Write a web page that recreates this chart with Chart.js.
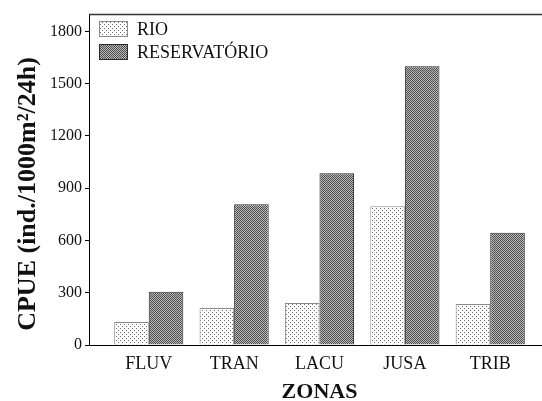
<!DOCTYPE html>
<html>
<head>
<meta charset="utf-8">
<script src="https://cdn.jsdelivr.net/npm/chart.js@4/dist/chart.umd.min.js"></script>
<style>
  html, body { margin: 0; padding: 0; background: #fff; overflow: hidden; }
  #wrap { width: 542px; height: 401px; overflow: hidden; }
  #c { display: block; }
</style>
</head>
<body>
<div id="wrap"><canvas id="c" width="550" height="401"></canvas></div>
<script>
// Zones along the reservoir and CPUE per environment
const zones = ['FLUV', 'TRAN', 'LACU', 'JUSA', 'TRIB'];
const rio = [132, 212, 241, 797, 235];
const reservatorio = [305, 808, 986, 1600, 644];
const yTicks = [0, 300, 600, 900, 1200, 1500, 1800];
const seriesNames = ['RIO', 'RESERVATÓRIO'];
const yTitle = 'CPUE (ind./1000m²/24h)';
const xTitle = 'ZONAS';

const SERIF = "'Liberation Serif', 'DejaVu Serif', serif";

// Stippled fill for the river bars
function dotPattern() {
  const t = document.createElement('canvas');
  t.width = 4; t.height = 4;
  const g = t.getContext('2d');
  g.fillStyle = '#ffffff'; g.fillRect(0, 0, 4, 4);
  g.fillStyle = '#6a6a6a';
  g.fillRect(0, 0, 1, 1);
  g.fillRect(2, 2, 1, 1);
  return g.createPattern(t, 'repeat');
}
// Fine checker fill for the reservoir bars
function checkPattern() {
  const t = document.createElement('canvas');
  t.width = 2; t.height = 2;
  const g = t.getContext('2d');
  g.fillStyle = '#b8b8b8'; g.fillRect(0, 0, 2, 2);
  g.fillStyle = '#505050';
  g.fillRect(0, 0, 1, 1);
  g.fillRect(1, 1, 1, 1);
  return g.createPattern(t, 'repeat');
}
const rioFill = dotPattern();
const resFill = checkPattern();
const rioBorder = '#8a8a8a';
const resBorder = '#2a2a2a';

// Top frame line, rotated y title and the in-plot legend
const framePlugin = {
  id: 'frame',
  afterDraw(chart) {
    const { ctx, chartArea: a } = chart;
    ctx.save();
    ctx.strokeStyle = '#333';
    ctx.lineWidth = 1.5;
    ctx.beginPath();
    ctx.moveTo(a.left, a.top + 0.5);
    ctx.lineTo(a.right, a.top + 0.5);
    ctx.stroke();

    // y axis title
    ctx.fillStyle = '#111';
    ctx.font = 'bold 26px ' + SERIF;
    ctx.textAlign = 'center';
    ctx.textBaseline = 'alphabetic';
    ctx.translate(35, 194);
    ctx.rotate(-Math.PI / 2);
    ctx.fillText(yTitle, 0, 0);
    ctx.restore();

    // legend
    ctx.save();
    const fills = [rioFill, resFill];
    const borders = [rioBorder, resBorder];
    const boxX = a.left + 10, boxW = 29, boxH = 16;
    const rowsY = [a.top + 7, a.top + 30];
    ctx.font = '18px ' + SERIF;
    ctx.textBaseline = 'middle';
    ctx.textAlign = 'left';
    seriesNames.forEach((name, i) => {
      const y = rowsY[i];
      ctx.fillStyle = fills[i];
      ctx.fillRect(boxX, y, boxW, boxH);
      ctx.strokeStyle = borders[i];
      ctx.lineWidth = 1;
      ctx.strokeRect(boxX + 0.5, y + 0.5, boxW - 1, boxH - 1);
      ctx.fillStyle = '#111';
      ctx.fillText(name, boxX + boxW + 9, y + boxH / 2 + 1);
    });
    ctx.restore();
  }
};

new Chart(document.getElementById('c'), {
  type: 'bar',
  data: {
    datasets: [
      {
        label: seriesNames[0],
        data: rio.map((v, i) => ({ x: i, y: v })),
        backgroundColor: rioFill,
        borderColor: rioBorder,
        borderWidth: 1,
        categoryPercentage: 0.81,
        barPercentage: 1.0
      },
      {
        label: seriesNames[1],
        data: reservatorio.map((v, i) => ({ x: i, y: v })),
        backgroundColor: resFill,
        borderColor: resBorder,
        borderWidth: 1,
        categoryPercentage: 0.81,
        barPercentage: 1.0
      }
    ]
  },
  options: {
    responsive: false,
    devicePixelRatio: 1,
    animation: false,
    layout: { padding: { top: 14, left: 0, right: 0, bottom: 0 } },
    plugins: {
      legend: { display: false },
      tooltip: { enabled: false }
    },
    scales: {
      x: {
        type: 'linear',
        offset: false,
        min: -0.7,
        max: 4.7,
        afterBuildTicks: (s) => { s.ticks = zones.map((_, i) => ({ value: i })); },
        afterFit: (s) => { s.height = 56; },
        grid: { drawOnChartArea: false, drawTicks: false, offset: false },
        border: { display: true, color: '#000', width: 1 },
        ticks: {
          autoSkip: false,
          maxRotation: 0,
          padding: 8,
          color: '#111',
          font: { family: SERIF, size: 18 },
          callback: (v) => zones[v] ?? ''
        },
        title: {
          display: true,
          text: xTitle,
          color: '#111',
          font: { family: SERIF, size: 22, weight: 'bold', lineHeight: 0.8 },
          padding: 0
        }
      },
      y: {
        min: 0,
        max: 1900,
        afterBuildTicks: (s) => { s.ticks = yTicks.map(v => ({ value: v })); },
        afterFit: (s) => { s.width = 89; },
        grid: { drawOnChartArea: false, drawTicks: true, tickLength: 4, color: '#000' },
        border: { display: true, color: '#000', width: 1 },
        ticks: {
          padding: 3,
          color: '#111',
          font: { family: SERIF, size: 16 },
          callback: (v) => String(v)
        },
        title: { display: false }
      }
    }
  },
  plugins: [framePlugin]
});
</script>
</body>
</html>
